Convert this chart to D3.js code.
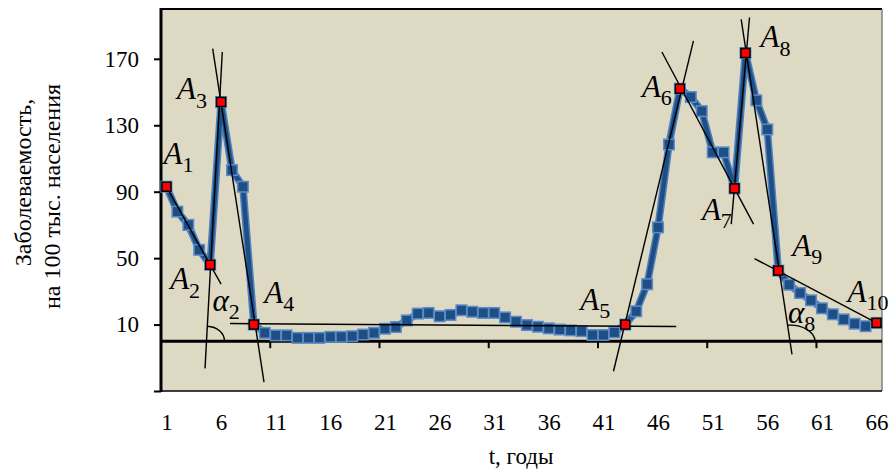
<!DOCTYPE html>
<html><head><meta charset="utf-8">
<script src="https://cdn.jsdelivr.net/npm/d3@7"></script>
<style>body{margin:0;background:#fff}</style>
</head><body>
<svg id="chart" width="891" height="469"></svg>
<script>
// ---------- data ----------
const years = d3.range(1, 67);
const incidence = [
  93, 78, 70, 55, 46, 144, 103, 93, 10, 5,
  3.5, 3.5, 2, 2, 2, 2.6, 2.6, 3, 4, 5,
  7.5, 8.5, 12.5, 16.6, 17, 15, 15.8, 18.6, 17.7, 17,
  17, 14.3, 11.7, 9.7, 8.7, 7.7, 7, 6.5, 6, 3.7,
  3.7, 5.3, 10, 18, 34.3, 68.5, 118.4, 152, 147, 138.5,
  113.7, 113.7, 92, 173.5, 145, 127.5, 42.5, 34, 29, 24.6,
  19.8, 16.2, 13.1, 10.5, 9, 11
];
const keyYears = [1, 5, 6, 9, 43, 48, 53, 54, 57, 66];
const keyNames = ["1","2","3","4","5","6","7","8","9","10"];
const yTickValues = [-30, 10, 50, 90, 130, 170];
const xTickLabels = [1, 6, 11, 16, 21, 26, 31, 36, 41, 46, 51, 56, 61, 66];
const xTickMarks = [10, 20, 30, 40, 50, 60];   // after these categories
// tangent lines in data units: [t1, v1, t2, v2]
const tangents = [
  [1, 93, 6.0, 34.3],
  [4.53, -16.4, 6.11, 174.1],
  [5.23, 176.2, 9.93, -24.7],
  [6.82, 10.6, 47.66, 8.8],
  [41.92, -18.1, 49.24, 180.8],
  [46.35, 174.1, 54.74, 70.5],
  [52.7, 70.5, 54.37, 194.9],
  [53.61, 193.7, 58.26, -8],
  [54.83, 49.7, 66, 11]
];
const angleTangent = [1, 7];        // which tangent makes the angle
const angleNames = ["2", "8"];
const yTitle = ["Заболеваемость,", "на 100 тыс. населения"];
const xTitle = "t, годы";

// ---------- layout ----------
const W = 891, H = 469;
const L = 161, R = 882, T = 9, B = 391;
const FONT = "'Liberation Serif','Times New Roman',serif";
const labelOffsets = [[-3,-23],[-40,24.5],[-44,-3],[10.5,-22],[-45,-15],[-38,8],[-32.6,31.6],[15,-6],[14,-14.6],[-29,-21]];
const angleLabelOffsets = [[6,-30],[-2,-18]];
const arcRadii = [[18,15],[25,16]];

const svg = d3.select("#chart");
const x = d3.scaleLinear().domain([0.5, 66.5]).range([L, R]);
const y = d3.scaleLinear().domain([-30, 200]).range([B, T]);

svg.append("rect").attr("x", 0).attr("y", 0).attr("width", W).attr("height", H).attr("fill", "#fff");
svg.append("rect").attr("x", L).attr("y", T).attr("width", R - L).attr("height", B - T).attr("fill", "#DDD9C3");

// frame
svg.append("line").attr("x1", L).attr("x2", R).attr("y1", T).attr("y2", T).attr("stroke", "#000").attr("stroke-width", 2);
svg.append("line").attr("x1", R).attr("x2", R).attr("y1", T).attr("y2", B).attr("stroke", "#808080").attr("stroke-width", 1.5);
svg.append("line").attr("x1", L).attr("x2", R).attr("y1", B).attr("y2", B).attr("stroke", "#000").attr("stroke-width", 1.5);

// y axis
const yAxis = d3.axisLeft(y).tickValues(yTickValues).tickSize(7).tickPadding(15)
  .tickFormat(d => d < 0 ? "" : d3.format("d")(d));
const gy = svg.append("g").attr("transform", `translate(${L},0)`).call(yAxis);
gy.select(".domain").remove();
gy.selectAll(".tick line").attr("stroke", "#000").attr("stroke-width", 2);
gy.selectAll("text").attr("font-family", FONT).attr("font-size", 23).attr("fill", "#000");
svg.append("line").attr("x1", L).attr("x2", L).attr("y1", T - 1).attr("y2", B + 1).attr("stroke", "#000").attr("stroke-width", 3);

// x axis line at 0 with tick marks
svg.append("line").attr("x1", L).attr("x2", R).attr("y1", y(0)).attr("y2", y(0)).attr("stroke", "#000").attr("stroke-width", 3);
svg.append("g").selectAll("line").data(xTickMarks).join("line")
  .attr("x1", d => x(d + 0.5)).attr("x2", d => x(d + 0.5))
  .attr("y1", y(0)).attr("y2", y(0) + 7).attr("stroke", "#000").attr("stroke-width", 2);

// x tick labels
const xAxis = d3.axisBottom(x).tickValues(xTickLabels).tickSize(0).tickPadding(0).tickFormat(d3.format("d"));
const gx = svg.append("g").attr("transform", `translate(0,${B})`).call(xAxis);
gx.select(".domain").remove();
gx.selectAll("text").attr("font-family", FONT).attr("font-size", 23).attr("fill", "#000")
  .attr("dy", null).attr("y", 39);

// titles
svg.append("text").attr("x", 521).attr("y", 464).attr("text-anchor", "middle")
  .attr("font-family", FONT).attr("font-size", 23).text(xTitle);
svg.append("text").attr("transform", "translate(31,182.5) rotate(-90)").attr("text-anchor", "middle")
  .attr("font-family", FONT).attr("font-size", 24).text(yTitle[0]);
svg.append("text").attr("transform", "translate(60,196.5) rotate(-90)").attr("text-anchor", "middle")
  .attr("font-family", FONT).attr("font-size", 24).text(yTitle[1]);

// series
const pts = years.map((t, i) => ({t, v: incidence[i]}));
const line = d3.line().x(d => x(d.t)).y(d => y(d.v));
svg.append("path").datum(pts).attr("d", line).attr("fill", "none")
  .attr("stroke", "#4F81BD").attr("stroke-width", 7.5).attr("stroke-linejoin", "round");
svg.append("path").datum(pts).attr("d", line).attr("fill", "none")
  .attr("stroke", "#1F4E85").attr("stroke-width", 4.5).attr("stroke-linejoin", "round");
const ms = 10.5;
svg.append("g").selectAll("rect").data(pts).join("rect")
  .attr("x", d => x(d.t) - ms / 2).attr("y", d => y(d.v) - ms / 2)
  .attr("width", ms).attr("height", ms)
  .attr("fill", "#1F4E85").attr("stroke", "#5B8CC8").attr("stroke-width", 1.5);

// tangents
svg.append("g").selectAll("line").data(tangents).join("line")
  .attr("x1", d => x(d[0])).attr("y1", d => y(d[1]))
  .attr("x2", d => x(d[2])).attr("y2", d => y(d[3]))
  .attr("stroke", "#000").attr("stroke-width", 1.4);

// angle arcs
angleTangent.forEach((ti, k) => {
  const [t1, v1, t2, v2] = tangents[ti];
  const px1 = x(t1), py1 = y(v1), px2 = x(t2), py2 = y(v2);
  const cy = y(0);
  const cx = px1 + (cy - py1) / (py2 - py1) * (px2 - px1);
  const up = py1 < py2 ? [px1 - cx, cy - py1] : [px2 - cx, cy - py2];
  const phi = Math.atan2(up[1], up[0]);
  const [rx, ry] = arcRadii[k];
  const r = 1 / Math.sqrt(Math.cos(phi) ** 2 / rx ** 2 + Math.sin(phi) ** 2 / ry ** 2);
  const ex = cx + r * Math.cos(phi), ey = cy - r * Math.sin(phi);
  svg.append("path").attr("d", `M${cx + rx},${cy} A${rx},${ry} 0 0 0 ${ex},${ey}`)
    .attr("fill", "none").attr("stroke", "#000").attr("stroke-width", 1.4);
  const lab = svg.append("text").attr("x", cx + angleLabelOffsets[k][0]).attr("y", cy + angleLabelOffsets[k][1])
    .attr("font-family", FONT).attr("font-size", 31);
  lab.append("tspan").attr("font-style", "italic").text("α");
  lab.append("tspan").attr("font-size", 22).attr("dy", 8).text(angleNames[k]);
});

// key markers
const keyPts = keyYears.map(t => ({t, v: incidence[t - 1]}));
const ks = 9;
svg.append("g").selectAll("rect").data(keyPts).join("rect")
  .attr("x", d => x(d.t) - ks / 2).attr("y", d => y(d.v) - ks / 2)
  .attr("width", ks).attr("height", ks)
  .attr("fill", "#FF0000").attr("stroke", "#000").attr("stroke-width", 1.5);

// key labels
keyPts.forEach((d, i) => {
  const lab = svg.append("text").attr("x", x(d.t) + labelOffsets[i][0]).attr("y", y(d.v) + labelOffsets[i][1])
    .attr("font-family", FONT).attr("font-size", 31);
  lab.append("tspan").attr("font-style", "italic").text("A");
  lab.append("tspan").attr("font-size", 22).attr("dy", 8.5).text(keyNames[i]);
});
</script>
</body></html>
